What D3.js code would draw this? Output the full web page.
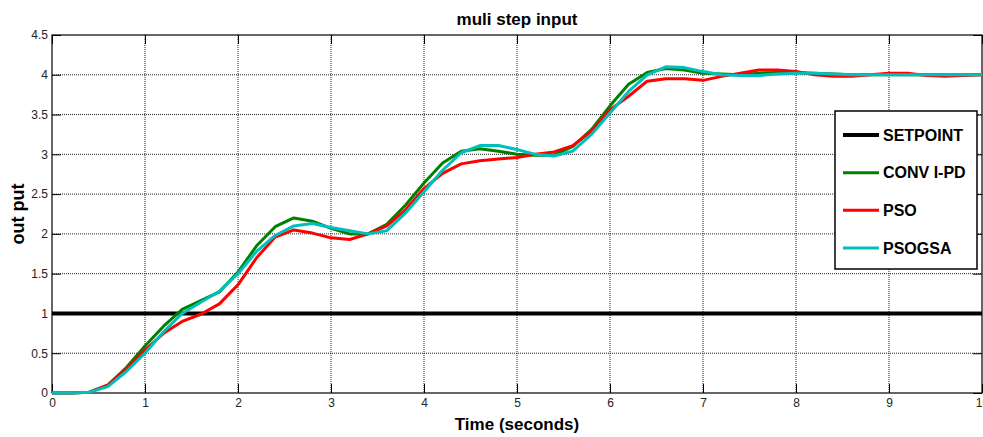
<!DOCTYPE html>
<html>
<head>
<meta charset="utf-8">
<script src="https://cdn.jsdelivr.net/npm/d3@7"></script>
<style>
  body { margin: 0; background: #fff; }
  svg { display: block; font-family: "Liberation Sans", Arial, sans-serif; }
</style>
</head>
<body>
<script>
// sample times (seconds)
var time = [0, 0.2, 0.4, 0.6, 0.8, 1.0, 1.2, 1.4, 1.6, 1.8,
            2.0, 2.2, 2.4, 2.6, 2.8, 3.0, 3.2, 3.4, 3.6, 3.8,
            4.0, 4.2, 4.4, 4.6, 4.8, 5.0, 5.2, 5.4, 5.6, 5.8,
            6.0, 6.2, 6.4, 6.6, 6.8, 7.0, 7.2, 7.4, 7.6, 7.8,
            8.0, 8.2, 8.4, 8.6, 8.8, 9.0, 9.2, 9.4, 9.6, 9.8, 10]

var conv_ipd = [0, 0, 0.01, 0.10, 0.32, 0.59, 0.84, 1.05, 1.16, 1.27,
                1.52, 1.85, 2.09, 2.20, 2.16, 2.07, 2.00, 2.00, 2.12, 2.36,
                2.64, 2.89, 3.04, 3.07, 3.04, 3.00, 2.99, 2.99, 3.10, 3.31,
                3.61, 3.88, 4.03, 4.08, 4.06, 4.02, 4.01, 4.00, 4.02, 4.03,
                4.03, 4.02, 4.01, 4.00, 4.00, 4.00, 4.00, 4.00, 4.00, 4.00, 4.00]

var pso = [0, 0, 0.01, 0.10, 0.30, 0.54, 0.75, 0.90, 0.99, 1.12,
           1.36, 1.70, 1.96, 2.05, 2.01, 1.95, 1.93, 2.00, 2.10, 2.30,
           2.57, 2.76, 2.88, 2.92, 2.94, 2.96, 3.00, 3.03, 3.11, 3.29,
           3.56, 3.73, 3.92, 3.95, 3.95, 3.93, 3.98, 4.02, 4.06, 4.06,
           4.04, 4.00, 3.98, 3.98, 4.00, 4.02, 4.02, 3.99, 3.98, 3.99, 4.00]

var psogsa = [0, 0, 0.01, 0.08, 0.27, 0.50, 0.77, 1.00, 1.14, 1.28,
              1.50, 1.78, 1.98, 2.10, 2.13, 2.08, 2.04, 2.00, 2.04, 2.26,
              2.53, 2.80, 3.02, 3.11, 3.11, 3.06, 3.00, 2.98, 3.04, 3.25,
              3.52, 3.79, 4.00, 4.10, 4.09, 4.04, 4.00, 3.99, 3.99, 4.01,
              4.02, 4.02, 4.01, 4.00, 4.00, 4.00, 4.00, 4.00, 4.00, 4.00, 4.00]

var setpoint_time = [0, 10]
var setpoint = [1, 1]

var x_ticks = [0, 1, 2, 3, 4, 5, 6, 7, 8, 9, 10]
var y_ticks = [0, 0.5, 1, 1.5, 2, 2.5, 3, 3.5, 4, 4.5]
var y_tick_labels = ['0', '0.5', '1', '1.5', '2', '2.5', '3', '3.5', '4', '4.5']

var series_names = ['SETPOINT', 'CONV I-PD', 'PSO', 'PSOGSA']
var series_colors = ['#000000', '#008000', '#ff0000', '#00bfbf']

var width = 983, height = 437
var margin = {top: 35, right: 1, bottom: 44, left: 52}
var plot_width = width - margin.left - margin.right
var plot_height = height - margin.top - margin.bottom

var svg = d3.select('body').append('svg')
    .attr('width', width).attr('height', height)

var scale_x = d3.scaleLinear().domain([0, 10]).range([0, plot_width])
var scale_y = d3.scaleLinear().domain([0, 4.5]).range([plot_height, 0])

var plot = svg.append('g').attr('transform', `translate(${margin.left},${margin.top})`)

plot.append('rect').attr('width', plot_width).attr('height', plot_height).attr('fill', '#fff')

// dotted grid
plot.append('g').selectAll('line').data(x_ticks.slice(1, -1)).enter().append('line')
    .attr('x1', d => scale_x(d)).attr('x2', d => scale_x(d))
    .attr('y1', 0).attr('y2', plot_height)
    .attr('stroke', '#222').attr('stroke-width', 1).attr('stroke-dasharray', '1,1')
plot.append('g').selectAll('line').data(y_ticks.slice(1, -1)).enter().append('line')
    .attr('y1', d => scale_y(d)).attr('y2', d => scale_y(d))
    .attr('x1', 0).attr('x2', plot_width)
    .attr('stroke', '#222').attr('stroke-width', 1).attr('stroke-dasharray', '1,1')

// axes, ticks pointing inward like matlab
var axis_bottom = plot.append('g').attr('transform', `translate(0,${plot_height})`)
    .call(d3.axisBottom(scale_x).tickValues(x_ticks).tickSizeInner(-9).tickSizeOuter(0).tickPadding(5))
var axis_top = plot.append('g')
    .call(d3.axisTop(scale_x).tickValues(x_ticks).tickSizeInner(-9).tickSizeOuter(0).tickFormat(''))
var axis_left = plot.append('g')
    .call(d3.axisLeft(scale_y).tickValues(y_ticks).tickSizeInner(-9).tickSizeOuter(0).tickPadding(4)
        .tickFormat((d, i) => y_tick_labels[i]))
var axis_right = plot.append('g').attr('transform', `translate(${plot_width},0)`)
    .call(d3.axisRight(scale_y).tickValues(y_ticks).tickSizeInner(-9).tickSizeOuter(0).tickFormat(''))

;[axis_bottom, axis_top, axis_left, axis_right].forEach(function(a) {
    a.select('.domain').remove()
    a.selectAll('line').attr('stroke', '#000')
    a.selectAll('text').attr('font-size', 12).attr('fill', '#222')
        .attr('font-family', '"Liberation Sans", Arial, sans-serif')
})

plot.append('rect').attr('width', plot_width).attr('height', plot_height)
    .attr('fill', 'none').attr('stroke', '#000').attr('stroke-width', 1.2)

// curves
var line = d3.line().x(d => scale_x(d[0])).y(d => scale_y(d[1]))
var curves = [
    d3.zip(setpoint_time, setpoint),
    d3.zip(time, conv_ipd),
    d3.zip(time, pso),
    d3.zip(time, psogsa)
]
plot.append('g').selectAll('path').data(curves).enter().append('path')
    .attr('d', line)
    .attr('fill', 'none')
    .attr('stroke', (d, i) => series_colors[i])
    .attr('stroke-width', (d, i) => i == 0 ? 4 : 3)
    .attr('stroke-linejoin', 'round')

// labels
svg.append('text').text('muli step input')
    .attr('x', margin.left + plot_width / 2).attr('y', 25)
    .attr('text-anchor', 'middle').attr('font-size', 17).attr('font-weight', 'bold')
svg.append('text').text('Time (seconds)')
    .attr('x', margin.left + plot_width / 2).attr('y', 430)
    .attr('text-anchor', 'middle').attr('font-size', 17).attr('font-weight', 'bold')
svg.append('text').text('out put')
    .attr('transform', `translate(24,${margin.top + plot_height / 2}) rotate(-90)`)
    .attr('text-anchor', 'middle').attr('font-size', 18).attr('font-weight', 'bold')

// legend
var legend = svg.append('g').attr('transform', 'translate(835,111)')
legend.append('rect').attr('width', 142).attr('height', 158)
    .attr('fill', '#fff').attr('stroke', '#000').attr('stroke-width', 1.5)
var legend_y = d3.scalePoint().domain(series_names).range([24, 137])
var items = legend.selectAll('g.item').data(series_names).enter().append('g')
    .attr('class', 'item').attr('transform', d => `translate(0,${legend_y(d)})`)
items.append('line').attr('x1', 8).attr('x2', 44)
    .attr('stroke', (d, i) => series_colors[i]).attr('stroke-width', (d, i) => i == 0 ? 4 : 3)
items.append('text').text(d => d).attr('x', 48).attr('dy', '0.36em')
    .attr('font-size', 16).attr('font-weight', 'bold')
</script>
</body>
</html>
